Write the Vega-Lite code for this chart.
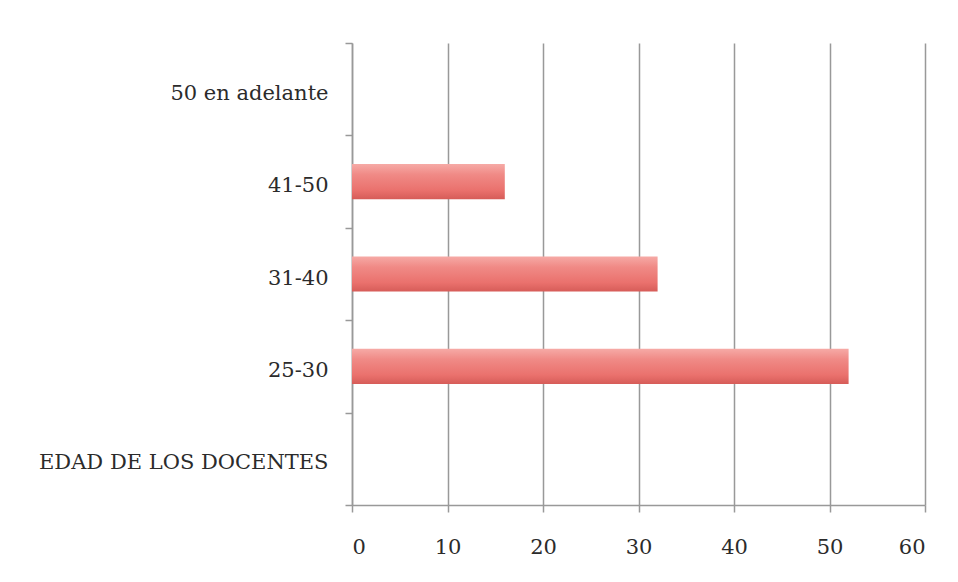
{
  "$schema": "https://vega.github.io/schema/vega-lite/v6.json",
  "autosize": {"type": "none"},
  "padding": {"left": 352, "top": 43, "right": 33, "bottom": 77},
  "width": 573,
  "height": 462,
  "background": "white",
  "data": {
    "values": [
      {"grupo": "50 en adelante", "docentes": null},
      {"grupo": "41-50", "docentes": 16},
      {"grupo": "31-40", "docentes": 32},
      {"grupo": "25-30", "docentes": 52},
      {"grupo": "EDAD DE LOS DOCENTES", "docentes": null}
    ]
  },
  "mark": {
    "type": "bar",
    "height": {"band": 0.38},
    "color": {
      "gradient": "linear",
      "x1": 0, "y1": 0, "x2": 0, "y2": 1,
      "stops": [
        {"offset": 0, "color": "#f6aaa6"},
        {"offset": 0.3, "color": "#f08a86"},
        {"offset": 0.75, "color": "#ea716d"},
        {"offset": 1, "color": "#d65c58"}
      ]
    }
  },
  "encoding": {
    "y": {
      "field": "grupo",
      "type": "nominal",
      "title": null,
      "scale": {
        "domain": ["50 en adelante", "41-50", "31-40", "25-30", "EDAD DE LOS DOCENTES"],
        "paddingInner": 0,
        "paddingOuter": 0
      },
      "axis": {
        "tickBand": "extent",
        "tickSize": 7,
        "tickColor": "#999999",
        "tickWidth": 1.5,
        "domainColor": "#999999",
        "domainWidth": 1.5,
        "labelPadding": 17,
        "labelOffset": 4,
        "labelLimit": 0,
        "labelFont": "DejaVu Serif",
        "labelFontSize": 21,
        "labelColor": "#2b2b2b",
        "grid": false
      }
    },
    "x": {
      "field": "docentes",
      "type": "quantitative",
      "title": null,
      "scale": {"domain": [0, 60], "nice": false},
      "axis": {
        "values": [0, 10, 20, 30, 40, 50, 60],
        "tickSize": 7,
        "tickColor": "#999999",
        "tickWidth": 1.5,
        "domainColor": "#999999",
        "domainWidth": 1.5,
        "gridColor": "#999999",
        "gridWidth": 1.5,
        "gridOpacity": 1,
        "labelPadding": 24,
        "labelFont": "DejaVu Serif",
        "labelFontSize": 21,
        "labelColor": "#2b2b2b"
      }
    }
  },
  "config": {"view": {"stroke": null}}
}
